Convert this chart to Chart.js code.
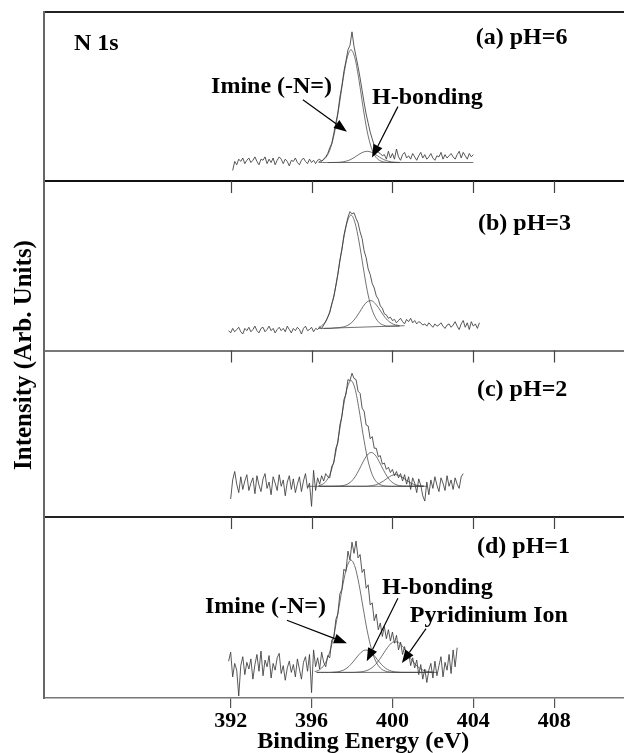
<!DOCTYPE html>
<html>
<head>
<meta charset="utf-8">
<script src="https://cdn.jsdelivr.net/npm/chart.js@4.4.1/dist/chart.umd.min.js"></script>
<style>
  html, body { margin: 0; padding: 0; background: #fff; }
  #wrap { width: 624px; height: 753px; position: relative; }
</style>
</head>
<body>
<div id="wrap"><canvas id="xps"></canvas></div>
<script>
// ---- data (binding energy in eV, intensity in arb. units, background = 0) ----
const energyTicks = [392, 396, 400, 404, 408];
const rawStep = 0.1;
const fitStep = 0.2;

// (a) pH=6
const rawStartA = 392.1;
const rawA = [-7, 1, -2, 3, 1, 4, -1, 2, 4, 0, 2, 5, 1, -2, 3, 2, 5, -1, 3, 0, 4, -2, 2, 5, 3, -1, 3, 1, -3, 2, 1, 4, 0, -2, 2, 4, 1, -1, 3, 0, 2, -1, 2, 3, 1, 3, 5,
  8, 13, 17, 26, 35, 44, 58, 68, 81, 90, 100, 104, 116, 103, 94, 85, 75, 64, 53, 43, 35, 27, 21, 15, 12, 9, 8, 6, 7, 3,
  10, 4, 8, 3, 12, 5, 2, 7, 9, 4, 6, 3, 8, 5, 2, 6, 9, 4, 7, 3, 5, 8, 4, 2, 6, 5, 9, 3, 7, 4, 6, 8, 5, 3, 7, 10, 4, 9, 6, 3, 8, 5, 7];
const imineStartA = 396.35;
const imineA = [0.6, 2, 5.6, 13.5, 27.8, 48.7, 72.6, 92.3, 100, 92.3, 72.6, 48.7, 27.8, 13.5, 5.6, 2, 0.6, 0.1, 0, 0, 0];
const hbondStartA = 396.35;
const hbondA = [0, 0, 0, 0, 0.1, 0.2, 0.6, 1.4, 2.8, 4.9, 7.3, 9.2, 10, 9.2, 7.3, 4.9, 2.8, 1.4, 0.6, 0.2, 0.1];
const bgXA = [396.8, 404.0];
const bgYA = [0, 0];

// (b) pH=3
const rawStartB = 391.9;
const rawB = [-2, -4, 0, -3, -1, 1, -3, -5, 0, -2, 1, -3, -1, 2, -2, -4, 0, 1, -3, -1, 2, -2, 0, -4, -1, 1, -2, 0, -3, 2, -1, -4, 0, -2, 1, -1, -5, 0, 2, -2, -1, 1, -3, 0, -1, 1, 0,
  3, 6, 10, 14, 22, 28, 38, 48, 61, 70, 83, 91, 99, 104, 102, 103, 98, 94, 86, 80, 69, 63, 53, 48, 40, 36, 29, 26, 20, 18, 13, 12, 9, 10, 7,
  8, 5, 7, 9, 6, 4, 8, 6, 9, 5, 7, 4, 6, 5, 3,
  4, 2, 5, 3, 1, 4, 2, 3, 5, 2, 0, 3, 4, 1, 3, 6, 2, -1, 4, 7, 1, 5, -1, 6, 2, 4, 0, 5];
const imineStartB = 396.35;
const imineB = [1, 3, 8, 18, 33, 54, 76, 94, 101, 94, 77, 55, 34, 19, 10, 5, 3, 2, 2, 2, 2];
const hbondStartB = 396.35;
const hbondB = [0, 0, 0, 0, 0.4, 0.6, 1.2, 2.4, 4.6, 8.5, 13.8, 19.5, 23.7, 24.7, 22.1, 17.3, 11.8, 7.4, 4.6, 3.1, 2.6];
const bgXB = [396.6, 400.6];
const bgYB = [0, 2.4];

// (c) pH=2
const rawStartC = 392.0;
const rawC = [-12, 6, 14, 2, -6, 9, -3, 5, 11, -4, 3, 8, -7, 10, 1, -5, 7, 12, -2, 4, -8, 9, 3, -4, 11, 0, 6, -9, 4, 10, -3, 7, -6, 2, 9, -5, 5, 12, -2, 3, -19, 15, -4, 8, 2, 10, 5, 12,
  9, 8, 19, 22, 36, 41, 58, 66, 82, 87, 101, 100, 107, 102, 101, 90, 88, 74, 71, 58, 57, 45, 47, 36, 36, 28, 29, 21, 22, 16, 18, 13, 16, 10, 14, 8, 12,
  5, 11, 2, 9, -3, 8, 3, -6, 7, 1, -9, -14, 4, -8, 6, -2, 9, 1, -5, 8, 3, -4, 10, 0, 6, -3, 8, 2, -2, 9, 12];
const imineStartC = 396.35;
const imineC = [0.6, 2, 5.6, 13.5, 27.8, 48.7, 72.6, 92.3, 100, 92.3, 72.6, 48.7, 27.8, 13.5, 5.6, 2, 0.6, 0.1, 0, 0, 0, 0, 0, 0, 0, 0, 0];
const hbondStartC = 396.35;
const hbondC = [0, 0, 0, 0, 0.1, 0.2, 0.6, 1.8, 4.3, 8.9, 15.6, 23.2, 29.5, 32, 29.5, 23.2, 15.6, 8.9, 4.3, 1.8, 0.6, 0.2, 0.1, 0, 0, 0, 0];
const pyrStartC = 396.35;
const pyrC = [0, 0, 0, 0, 0, 0, 0, 0, 0, 0, 0, 0, 0.1, 0.5, 1.2, 2.7, 4.9, 7.7, 10.1, 11, 10.1, 7.7, 4.9, 2.7, 1.2, 0.5, 0.1];
const bgXC = [395.8, 401.7];
const bgYC = [0, 0];

// (d) pH=1
const rawStartD = 391.9;
const rawD = [10, 18, -4, 8, 2, -21, 6, 14, -2, 9, 3, 12, -6, 7, 16, 1, 19, -3, 11, 5, 15, -5, 8, 2, 13, 17, -1, 6, -7, 4, 10, 0, 7, -4, 12, 3, -6, 9, 14, 1, 16, -18, 20, 5, 13, 3, 18, 9,
  5, 15, 13, 29, 30, 47, 52, 70, 74, 92, 90, 108, 100, 116, 106, 117, 102, 105, 89, 92, 75, 78, 60, 62, 46, 52, 38, 44, 32, 41, 30, 38, 28, 36, 26, 33, 20, 27, 16, 23, 12, 18, 6, 13,
  4, 11, -2, 7, -6, 3, -9, 2, 8, -5, 10, -3, 6, 14, -4, 9, 2, 16, -1, 20, 5, 22];
const imineStartD = 396.15;
const imineD = [0.7, 1.9, 4.9, 10.9, 21.5, 37.4, 57.5, 78.2, 94, 100, 94, 78.2, 57.5, 37.4, 21.5, 10.9, 4.9, 1.9, 0.7, 0.2, 0, 0, 0, 0, 0, 0, 0, 0, 0, 0];
const hbondStartD = 396.25;
const hbondD = [0, 0, 0, 0, 0.1, 0.4, 1.2, 2.7, 5.4, 9.3, 13.8, 17.8, 19.9, 19.2, 16, 11.5, 7.2, 3.9, 1.8, 0.7, 0.3, 0, 0, 0, 0, 0, 0, 0, 0, 0];
const pyrStartD = 396.25;
const pyrD = [0, 0, 0, 0, 0, 0, 0, 0, 0, 0, 0.2, 0.5, 1.2, 2.6, 5.1, 8.9, 13.9, 19.4, 24.3, 27.1, 27.1, 24.3, 19.4, 13.9, 8.9, 5.1, 2.6, 1.2, 0.5, 0.2];
const bgXD = [397.0, 402.2];
const bgYD = [0, 0];

// axis ranges of the four stacked panels (top to bottom)
const panelIds = ['ya', 'yb', 'yc', 'yd'];
const panelMin = [-16.4, -19.7, -29.1, -22.8];
const panelMax = [133.6, 131.3, 128.5, 138.4];
const panelWeight = [169.5, 170, 167, 181.5];
const panelLineColor = ['#222', '#111', '#777', '#222'];

// ---- helpers ----
function series(start, step, vals) {
  return vals.map((v, i) => ({ x: +(start + i * step).toFixed(2), y: v }));
}
function pairs(xs, ys) {
  return xs.map((x, i) => ({ x: x, y: ys[i] }));
}

const rawStyle = { borderColor: 'rgba(60,60,60,0.85)', borderWidth: 1, pointRadius: 0, tension: 0 };
const fitStyle = { borderColor: 'rgba(70,70,70,0.85)', borderWidth: 0.9, pointRadius: 0, cubicInterpolationMode: 'monotone' };

const panels = [
  { axis: 'ya', raw: series(rawStartA, rawStep, rawA),
    fits: [series(imineStartA, fitStep, imineA), series(hbondStartA, fitStep, hbondA)], bg: pairs(bgXA, bgYA) },
  { axis: 'yb', raw: series(rawStartB, rawStep, rawB),
    fits: [series(imineStartB, fitStep, imineB), series(hbondStartB, fitStep, hbondB)], bg: pairs(bgXB, bgYB) },
  { axis: 'yc', raw: series(rawStartC, rawStep, rawC),
    fits: [series(imineStartC, fitStep, imineC), series(hbondStartC, fitStep, hbondC), series(pyrStartC, fitStep, pyrC)], bg: pairs(bgXC, bgYC) },
  { axis: 'yd', raw: series(rawStartD, rawStep, rawD),
    fits: [series(imineStartD, fitStep, imineD), series(hbondStartD, fitStep, hbondD), series(pyrStartD, fitStep, pyrD)], bg: pairs(bgXD, bgYD) }
];

const datasets = [];
panels.forEach(p => {
  datasets.push(Object.assign({ data: p.raw, yAxisID: p.axis }, rawStyle));
  p.fits.forEach(f => datasets.push(Object.assign({ data: f, yAxisID: p.axis }, fitStyle)));
  datasets.push(Object.assign({ data: p.bg, yAxisID: p.axis }, fitStyle));
});

// text labels and arrows, placed in data units of each panel
const notes = [
  { axis: 'ya', text: 'N 1s', x: 384.25, y: 100 },
  { axis: 'ya', text: '(a) pH=6', x: 404.12, y: 105.3 },
  { axis: 'ya', text: 'Imine (-N=)', x: 391.03, y: 62 },
  { axis: 'ya', text: 'H-bonding', x: 398.99, y: 52.2 },
  { axis: 'yb', text: '(b) pH=3', x: 404.23, y: 87.3 },
  { axis: 'yc', text: '(c) pH=2', x: 404.18, y: 85.6 },
  { axis: 'yd', text: '(d) pH=1', x: 404.18, y: 106.8 },
  { axis: 'yd', text: 'Imine (-N=)', x: 390.73, y: 52.7 },
  { axis: 'yd', text: 'H-bonding', x: 399.48, y: 69.5 },
  { axis: 'yd', text: 'Pyridinium Ion', x: 400.86, y: 44.7 }
];
const arrows = [
  { axis: 'ya', from: [395.57, 55.8], to: [397.75, 27.4] },
  { axis: 'ya', from: [400.27, 49.6], to: [398.99, 4.4] },
  { axis: 'yd', from: [394.78, 46.4], to: [397.75, 26] },
  { axis: 'yd', from: [400.27, 66], to: [398.73, 10] },
  { axis: 'yd', from: [401.66, 39], to: [400.47, 8.3] }
];

const serif = '"Liberation Serif", "Times New Roman", serif';

const decor = {
  id: 'decor',
  afterDraw(chart) {
    const ctx = chart.ctx;
    const xs = chart.scales.x;
    ctx.save();
    // inward tick marks at the top of panels b-d
    ctx.strokeStyle = '#444';
    ctx.lineWidth = 1.2;
    ['yb', 'yc', 'yd'].forEach(id => {
      const s = chart.scales[id];
      energyTicks.forEach(v => {
        const px = Math.round(xs.getPixelForValue(v)) + 0.5;
        ctx.beginPath();
        ctx.moveTo(px, s.top);
        ctx.lineTo(px, s.top + 12);
        ctx.stroke();
      });
    });
    // arrows
    ctx.strokeStyle = '#000';
    ctx.fillStyle = '#000';
    ctx.lineWidth = 1.2;
    arrows.forEach(a => {
      const s = chart.scales[a.axis];
      const x1 = xs.getPixelForValue(a.from[0]), y1 = s.getPixelForValue(a.from[1]);
      const x2 = xs.getPixelForValue(a.to[0]), y2 = s.getPixelForValue(a.to[1]);
      const ang = Math.atan2(y2 - y1, x2 - x1);
      const hl = 13, hw = 5;
      const bx = x2 - hl * Math.cos(ang), by = y2 - hl * Math.sin(ang);
      ctx.beginPath();
      ctx.moveTo(x1, y1);
      ctx.lineTo(bx, by);
      ctx.stroke();
      ctx.beginPath();
      ctx.moveTo(x2, y2);
      ctx.lineTo(bx + hw * Math.sin(ang), by - hw * Math.cos(ang));
      ctx.lineTo(bx - hw * Math.sin(ang), by + hw * Math.cos(ang));
      ctx.closePath();
      ctx.fill();
    });
    // labels
    ctx.font = 'bold 24px ' + serif;
    ctx.textBaseline = 'alphabetic';
    ctx.textAlign = 'left';
    notes.forEach(n => {
      const s = chart.scales[n.axis];
      ctx.fillText(n.text, xs.getPixelForValue(n.x), s.getPixelForValue(n.y));
    });
    // x axis title
    ctx.textAlign = 'center';
    ctx.fillText('Binding Energy (eV)', xs.getPixelForValue(398.56), xs.bottom + 14);
    ctx.restore();
  }
};

const scales = {
  x: {
    type: 'linear',
    position: 'bottom',
    min: 382.77,
    max: 411.45,
    afterBuildTicks: s => { s.ticks = energyTicks.map(v => ({ value: v })); },
    ticks: {
      color: '#000',
      padding: 2,
      maxRotation: 0,
      autoSkip: false,
      font: { family: serif, size: 22, weight: 'bold', lineHeight: 1 },
      callback: v => String(v)
    },
    grid: { drawOnChartArea: false, tickLength: 10, color: '#555', lineWidth: 1.2 },
    border: { color: '#777', width: 1.5 }
  }
};
panelIds.forEach((id, i) => {
  scales[id] = {
    type: 'linear',
    position: 'left',
    stack: 'panels',
    stackWeight: panelWeight[i],
    weight: 4 - i,
    min: panelMin[i],
    max: panelMax[i],
    afterBuildTicks: s => { s.ticks = [{ value: s.max }]; },
    ticks: { display: false },
    grid: { drawTicks: false, tickLength: 0, color: panelLineColor[i], lineWidth: 2 },
    border: { display: true, color: '#666', width: 2 }
  };
});

new Chart(document.getElementById('xps'), {
  type: 'line',
  data: { datasets: datasets },
  options: {
    responsive: true,
    maintainAspectRatio: false,
    animation: false,
    devicePixelRatio: 1,
    layout: { padding: { top: 12, right: 0, bottom: 19, left: 0 } },
    plugins: {
      legend: { display: false },
      tooltip: { enabled: false },
      title: {
        display: true,
        text: 'Intensity (Arb. Units)',
        position: 'left',
        fullSize: false,
        color: '#000',
        font: { family: serif, size: 25, weight: 'bold', lineHeight: 1.2 },
        padding: { top: 10, bottom: 4 }
      }
    },
    scales: scales
  },
  plugins: [decor]
});
</script>
</body>
</html>
